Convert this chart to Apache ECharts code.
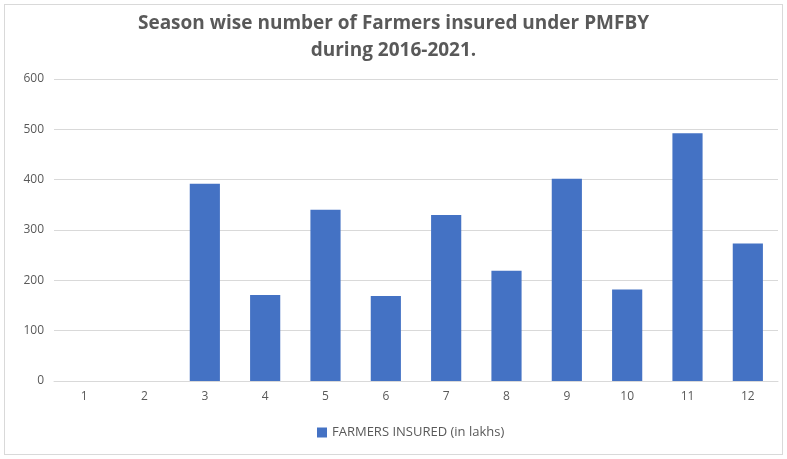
<!DOCTYPE html>
<html><head><meta charset="utf-8">
<script src="https://cdn.jsdelivr.net/npm/echarts@6/dist/echarts.min.js"></script>
<style>html,body{margin:0;padding:0;background:#fff;}
#c{position:absolute;left:4px;top:4px;width:779px;height:451px;border:1px solid #d9d9d9;box-sizing:border-box;}</style>
</head><body><div id="c"></div>
<script>
const categories = ['1','2','3','4','5','6','7','8','9','10','11','12'];
const farmersInsured = [0,0,392,171,340,169,330,219,402,182,492,273];
const yTicks = {min:0, max:600, interval:100};
const seriesName = 'FARMERS INSURED (in lakhs)';
const chart = echarts.init(document.getElementById('c'));
chart.setOption({
  animation:false,
  title:{text:'Season wise number of Farmers insured under PMFBY\nduring 2016-2021.',left:'center',top:0,
    textStyle:{fontFamily:'Open Sans',fontWeight:'bold',fontSize:19,color:'#595959',lineHeight:27}},
  grid:{left:49,right:4,top:74,bottom:73},
  legend:{bottom:10,left:307,itemWidth:10,itemHeight:10,icon:'rect',
    textStyle:{fontFamily:'Open Sans',fontSize:13,color:'#595959'}},
  xAxis:{type:'category',data:categories,axisLine:{lineStyle:{color:'#d9d9d9'}},axisTick:{show:false},
    axisLabel:{color:'#595959',fontFamily:'Open Sans',fontSize:12,margin:10}},
  yAxis:{type:'value',min:yTicks.min,max:yTicks.max,interval:yTicks.interval,
    axisLabel:{color:'#595959',fontFamily:'Open Sans',fontSize:12,margin:10},
    splitLine:{lineStyle:{color:'#d9d9d9'}},axisLine:{show:false},axisTick:{show:false}},
  series:[{name:seriesName,type:'bar',data:farmersInsured,barWidth:'50%',itemStyle:{color:'#4472c4'}}]
});
</script></body></html>
